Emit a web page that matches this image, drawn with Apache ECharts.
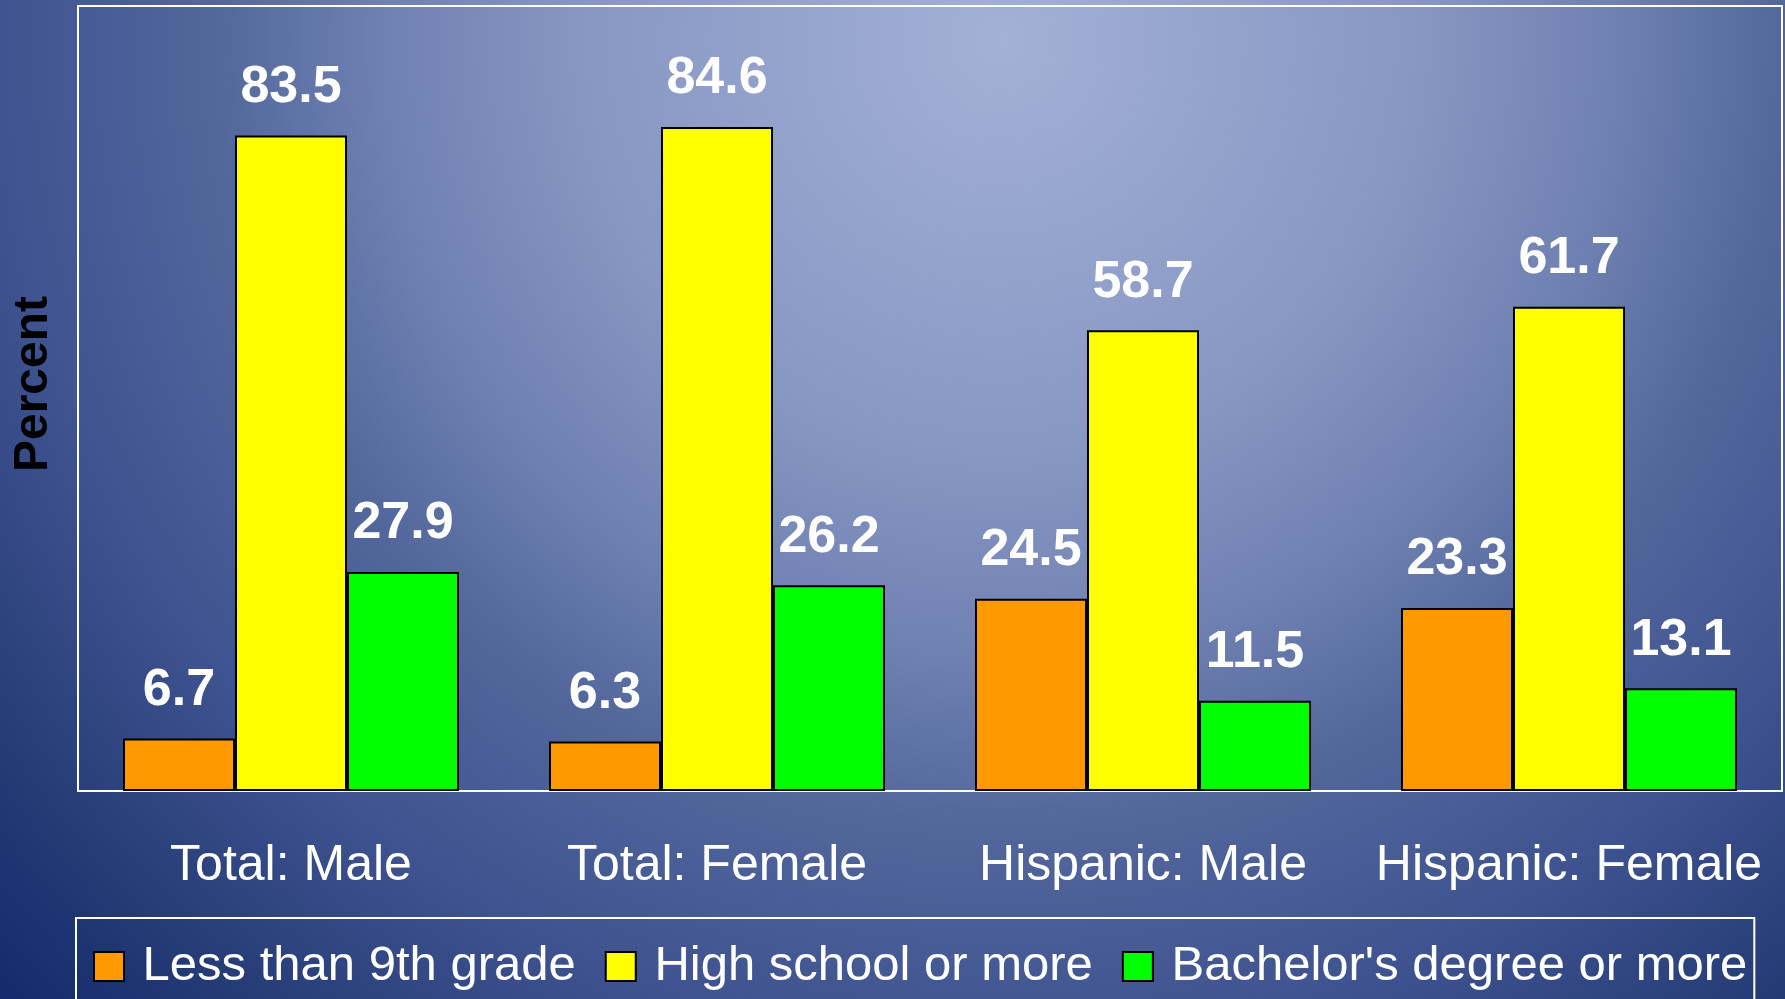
<!DOCTYPE html>
<html>
<head>
<meta charset="utf-8">
<script src="https://cdn.jsdelivr.net/npm/echarts@6/dist/echarts.min.js"></script>
<style>
html,body{margin:0;padding:0;background:#1a2d6e;}
#chart{width:1785px;height:999px;}
</style>
</head>
<body>
<div id="chart"></div>
<script>
const categories = ['Total: Male', 'Total: Female', 'Hispanic: Male', 'Hispanic: Female'];
const seriesNames = ['Less than 9th grade', 'High school or more', "Bachelor's degree or more"];
const lessThan9th = [6.7, 6.3, 24.5, 23.3];
const highSchool = [83.5, 84.6, 58.7, 61.7];
const bachelors = [27.9, 26.2, 11.5, 13.1];
const seriesColors = ['#ff9900', '#ffff00', '#00ff00'];
const yAxisTitle = 'Percent';

const FONT = '"Liberation Sans", Arial, sans-serif';
const chart = echarts.init(document.getElementById('chart'));

function makeSeries(name, data, color) {
  return {
    name: name,
    type: 'bar',
    data: data,
    barWidth: 112,
    barGap: '0%',
    itemStyle: { color: color, borderColor: '#000', borderWidth: 2 },
    label: {
      show: true,
      position: 'top',
      distance: 22,
      color: '#fff',
      fontWeight: 'bold',
      fontSize: 52,
      fontFamily: FONT,
      formatter: p => p.value.toFixed(1)
    }
  };
}

chart.setOption({
  animation: false,
  backgroundColor: {
    type: 'radial', x: 1000, y: 40, r: 1400, global: true,
    colorStops: [
      { offset: 0, color: '#a3b1d6' },
      { offset: 0.3, color: '#8797c3' },
      { offset: 0.45, color: '#6d7fb0' },
      { offset: 0.56, color: '#53679c' },
      { offset: 0.71, color: '#3f5490' },
      { offset: 0.88, color: '#243a75' },
      { offset: 1, color: '#12286b' }
    ]
  },
  grid: {
    left: 78, right: 3, top: 6, bottom: 208,
    show: true, borderColor: '#ffffff', borderWidth: 2,
    backgroundColor: 'transparent'
  },
  legend: {
    data: seriesNames,
    left: 76, top: 918,
    width: 1700,
    orient: 'horizontal',
    itemWidth: 30, itemHeight: 29, itemGap: 29,
    padding: [24, 7, 60, 17],
    borderColor: '#ffffff', borderWidth: 2,
    icon: 'rect',
    formatter: n => ' ' + n,
    textStyle: { color: '#fff', fontSize: 49, fontFamily: FONT }
  },
  graphic: [{
    type: 'text',
    x: 34, y: 384,
    rotation: Math.PI / 2,
    style: {
      text: yAxisTitle,
      fill: '#000',
      font: 'bold 48px ' + FONT,
      align: 'center',
      verticalAlign: 'middle'
    }
  }],
  xAxis: {
    type: 'category',
    data: categories,
    axisLine: { show: true, lineStyle: { color: '#fff', width: 2 } },
    axisTick: { show: false },
    axisLabel: { color: '#fff', fontSize: 50, margin: 50, fontFamily: FONT, interval: 0 }
  },
  yAxis: {
    type: 'value',
    min: 0, max: 100,
    axisLine: { show: false },
    axisTick: { show: false },
    axisLabel: { show: false },
    splitLine: { show: false }
  },
  series: [
    makeSeries(seriesNames[0], lessThan9th, seriesColors[0]),
    makeSeries(seriesNames[1], highSchool, seriesColors[1]),
    makeSeries(seriesNames[2], bachelors, seriesColors[2])
  ]
});
</script>
</body>
</html>
